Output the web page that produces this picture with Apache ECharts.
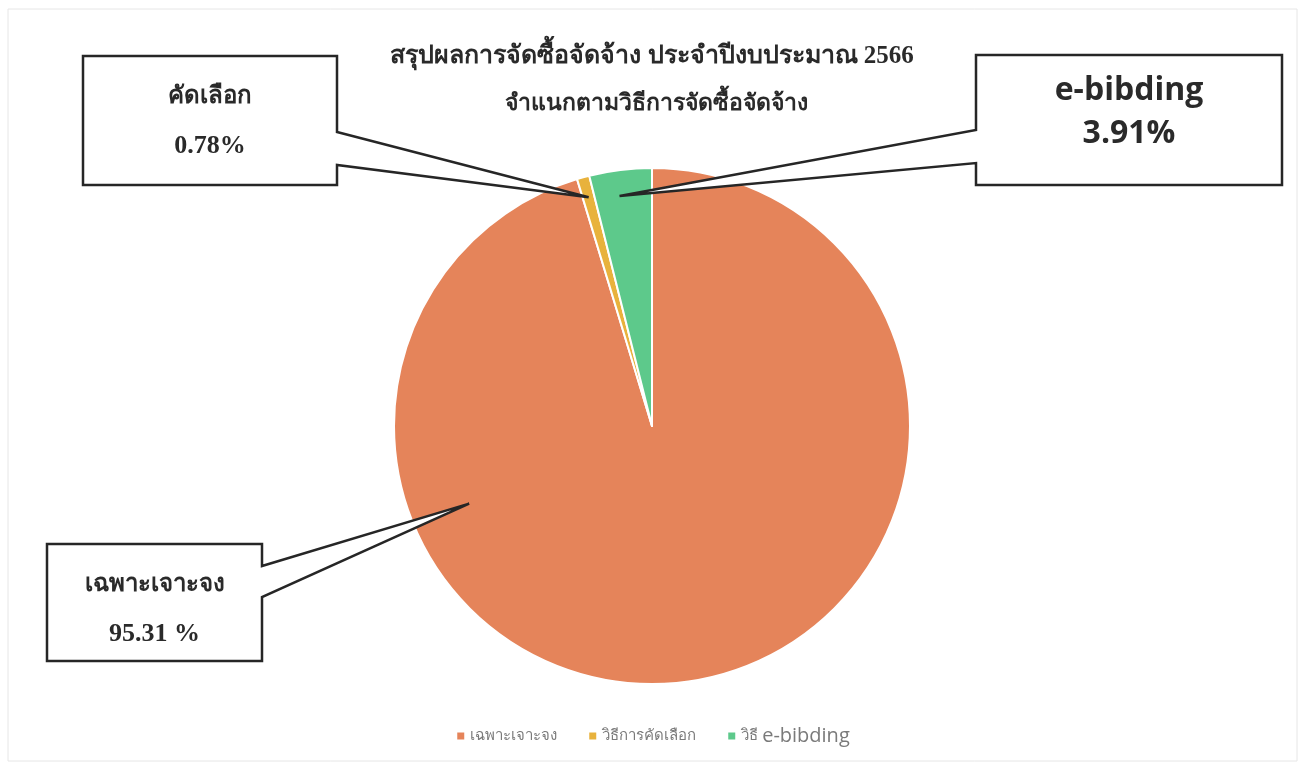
<!DOCTYPE html>
<html><head><meta charset="utf-8">
<script src="https://cdn.jsdelivr.net/npm/echarts@6/dist/echarts.min.js"></script>
<style>html,body{margin:0;padding:0;background:#fff}#c{width:1305px;height:764px}</style>
</head><body><div id="c"></div>
<script>
const categories = ['เฉพาะเจาะจง', 'วิธีการคัดเลือก', 'วิธี e-bibding'];
const values = [95.31, 0.78, 3.91];
const calloutNames = ['เฉพาะเจาะจง', 'คัดเลือก', 'e-bibding'];
const calloutValues = ['95.31 %', '0.78%', '3.91%'];
const titleLines = ['สรุปผลการจัดซื้อจัดจ้าง ประจำปีงบประมาณ 2566', 'จำแนกตามวิธีการจัดซื้อจัดจ้าง'];

const colors = ['#E5845A', '#E8B23C', '#5DC98B'];
const CX = 652, CY = 426, R = 258;
const total = values.reduce((a, b) => a + b, 0);

// tip positions computed from pie geometry
function tipAt(angleDeg, frac) {
  const a = angleDeg * Math.PI / 180;
  return [CX + Math.sin(a) * R * frac, CY - Math.cos(a) * R * frac];
}
function midAngle(i) {
  let cum = 0; for (let k = 0; k < i; k++) cum += values[k];
  return (cum + values[i] / 2) / total * 360;
}
const tips = [tipAt(247, 0.77), tipAt(midAngle(1), 0.92), tipAt(midAngle(2) - 1, 0.9)];

// callout boxes: [x0,y0,x1,y1,notchTop,notchBot,side]
const boxes = [
  [47, 544, 262, 661, 566, 597, 'right'],
  [83, 56, 337, 185, 132, 165, 'right'],
  [976, 55, 1282, 185, 130, 163, 'left']
];
const graphics = [];
boxes.forEach((b, i) => {
  const [x0, y0, x1, y1, nt, nb, side] = b;
  const t = tips[i];
  let pts;
  if (side === 'right') pts = [[x0, y0], [x1, y0], [x1, nt], t, [x1, nb], [x1, y1], [x0, y1]];
  else pts = [[x0, y0], [x1, y0], [x1, y1], [x0, y1], [x0, nb], t, [x0, nt]];
  graphics.push({ type: 'polygon', z: 100, shape: { points: pts },
    style: { fill: '#fff', stroke: '#262626', lineWidth: 2.5, lineJoin: 'miter' } });
  const cx = (x0 + x1) / 2;
  const isSans = i === 2;
  graphics.push({ type: 'text', z: 101, x: cx, y: isSans ? y0 + 36 : y0 + 41,
    style: { text: calloutNames[i], align: 'center', verticalAlign: 'middle',
      font: isSans ? 'bold 32px "Open Sans"' : 'bold 24px "Liberation Serif", serif', fill: '#2a2a2a' } });
  graphics.push({ type: 'text', z: 101, x: cx, y: isSans ? y0 + 79 : y0 + 90,
    style: { text: calloutValues[i], align: 'center', verticalAlign: 'middle',
      font: isSans ? 'bold 32px "Open Sans"' : 'bold 26px "Liberation Serif", serif', fill: '#2a2a2a' } });
});
graphics.push({ type: 'text', z: 101, x: 652, y: 57,
  style: { text: titleLines[0], align: 'center', verticalAlign: 'middle',
    font: 'bold 25px "Liberation Serif", serif', fill: '#2a2a2a' } });
graphics.push({ type: 'text', z: 101, x: 656, y: 104,
  style: { text: titleLines[1], align: 'center', verticalAlign: 'middle',
    font: 'bold 23px "Liberation Serif", serif', fill: '#2a2a2a' } });
graphics.push({ type: 'rect', z: 0, shape: { x: 8, y: 9, width: 1289, height: 752 },
  style: { fill: 'none', stroke: '#e6e6e6', lineWidth: 1 } });

const chart = echarts.init(document.getElementById('c'), null, { renderer: 'canvas' });
chart.setOption({
  animation: false,
  backgroundColor: '#fff',
  color: colors,
  legend: {
    data: categories, bottom: 13, left: 'center', icon: 'rect', itemWidth: 9, itemHeight: 9, itemGap: 30,
    textStyle: { color: '#7a7a7a', fontSize: 15, fontFamily: 'Noto Sans',
      rich: { big: { fontSize: 20, color: '#7a7a7a', fontFamily: 'Open Sans' }, sm: { fontSize: 15, color: '#7a7a7a' } } },
    formatter: function (n) {
      if (n.indexOf('e-bibding') >= 0) return '{sm|วิธี }{big|e-bibding}';
      return n;
    }
  },
  graphic: graphics,
  series: [{
    type: 'pie', center: [CX, CY], radius: R, startAngle: 90, clockwise: true,
    label: { show: false }, labelLine: { show: false },
    itemStyle: { borderColor: '#fff', borderWidth: 2 },
    emphasis: { disabled: true },
    data: categories.map((c, i) => ({ name: c, value: values[i] }))
  }]
});
</script></body></html>
